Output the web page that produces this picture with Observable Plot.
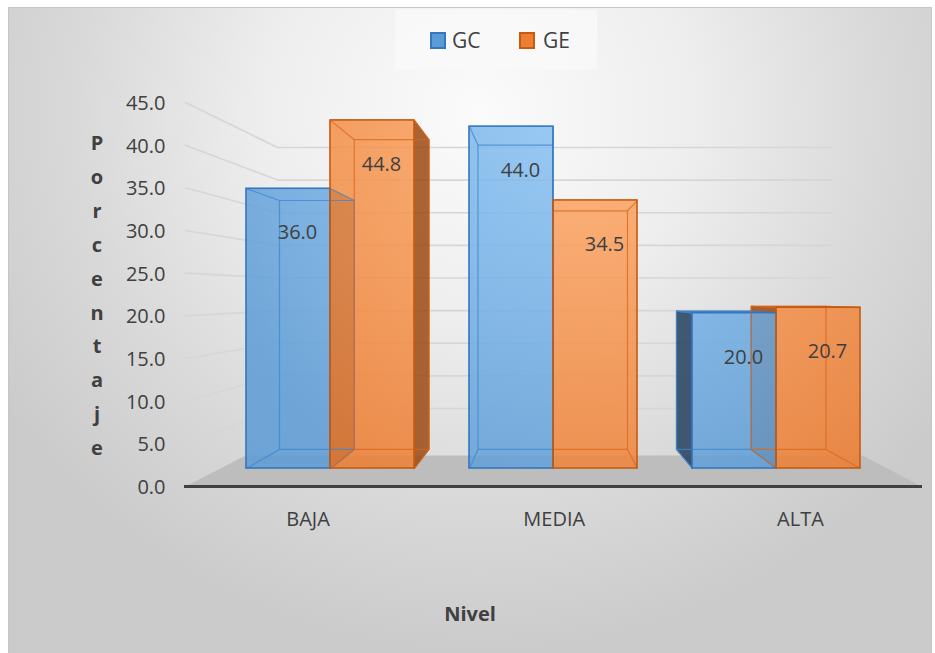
<!DOCTYPE html>
<html><head><meta charset="utf-8">
<script src="https://cdn.jsdelivr.net/npm/d3@7"></script>
<script src="https://cdn.jsdelivr.net/npm/@observablehq/plot@0.6"></script>
<style>
html,body{margin:0;padding:0;background:#fff;}
#wrap{position:relative;width:935px;height:653px;overflow:hidden;font-family:"Open Sans",sans-serif;color:#404040;}
#frame{position:absolute;left:8px;top:7px;width:924px;height:650px;border:1px solid #c6c6c6;box-sizing:border-box;
 background:radial-gradient(ellipse 560px 540px at 470px 105px,#fbfbfb 0%,#eeeeee 38%,#d9d9d9 72%,#cbcbcb 100%);}
.layer{position:absolute;left:0;top:0;}
#legend{position:absolute;left:395px;top:10px;width:202px;height:59px;background:rgba(250,250,250,0.75);}
.sw{position:absolute;width:12px;height:13px;border:2px solid;}
.lt{position:absolute;font-size:21px;line-height:32px;color:#404040;}
#xtitle{position:absolute;left:370px;top:599px;width:200px;text-align:center;font-weight:bold;font-size:20px;line-height:30px;color:#404040;}
#ytitle{position:absolute;left:80px;top:126px;width:34px;text-align:center;font-weight:bold;font-size:20px;line-height:33.9px;color:#404040;}
</style></head>
<body><div id="wrap"><div id="frame"></div><div id="axes" class="layer"></div><div id="bars" class="layer"></div>
<div id="legend"></div><div id="xtitle"></div><div id="ytitle"></div></div>
<script>
// ---- data ----
const categories = ["BAJA", "MEDIA", "ALTA"];
const groups = ["GC", "GE"];
const gcValues = [36.0, 44.0, 20.0];
const geValues = [44.8, 34.5, 20.7];
const yTicks = [0, 5, 10, 15, 20, 25, 30, 35, 40, 45];
const xTitle = "Nivel";
const yTitle = "Porcentaje";

const rows = [];
categories.forEach((c, i) => {
  rows.push({cat: c, i, group: "GC", value: gcValues[i]});
  rows.push({cat: c, i, group: "GE", value: geValues[i]});
});

// ---- styles ----
const fillColor = {GC: "#5b9bd5", GE: "#ed7d31"};
const lightColor = {GC: "#8cc4f6", GE: "#ffac6c"};
const edgeColor = {GC: "#3576bd", GE: "#c55a11"};
const innerColor = {GC: "#3f86cf", GE: "#d9661a"};
const sideColor = {GC: "#24405e", GE: "#9a4a12"};
const topColor = {GC: "#2e6aa8", GE: "#b9560f"};
const textColor = "#404040";
const FONT = "Open Sans";

// ---- 3D layout geometry (pixel layout -> data units via scales) ----
const X_DOMAIN = [0, 2], X_RANGE = [330, 776];
const Y_DOMAIN = [0, 45], BAR_Y_RANGE = [468, 118.35], AXIS_Y_RANGE = [486, 102];
const xPx = d3.scaleLinear(X_DOMAIN, X_RANGE);
const yAxisPx = d3.scaleLinear(Y_DOMAIN, AXIS_Y_RANGE);
const yBarPx = d3.scaleLinear(Y_DOMAIN, BAR_Y_RANGE);
const wallPx = d3.scaleLinear(Y_DOMAIN, [440.6, 147]);
const HALF = xPx.invert(330 + 84) - xPx.invert(330);
const VX = xPx.invert(546), VY = yBarPx.invert(295), DEPTH = 0.89, FRONT = 1.104;
const proj = (p, s) => [VX + (p[0] - VX) * s, VY + (p[1] - VY) * s];

// faces of each 3D bar
const facePts = [], innerLinks = [];
rows.forEach((r, k) => {
  const x0 = r.group === "GC" ? r.i - HALF : r.i, x1 = x0 + HALF, v = r.value;
  r.x0 = x0; r.x1 = x1; r.mid = (x0 + x1) / 2;
  const F = [[x0, 0], [x1, 0], [x1, v], [x0, v]];
  const B = F.map(p => proj(p, DEPTH));
  const faces = {
    back: [B[0], B[1], B[2], B[3]],
    bottom: [F[0], F[1], B[1], B[0]],
    top: [F[3], F[2], B[2], B[3]],
    left: [F[0], F[3], B[3], B[0]],
    right: [F[1], F[2], B[2], B[1]]
  };
  const outer = {back: false, bottom: false, top: v < VY, left: x0 > VX, right: x1 < VX};
  for (const kind in faces) {
    const pts = faces[kind].concat([faces[kind][0]]);
    pts.forEach(p => facePts.push({id: k + "-" + kind, group: r.group, kind, outer: outer[kind], x: p[0], y: p[1]}));
  }
  F.forEach((p, j) => innerLinks.push({group: r.group, x1: p[0], y1: p[1], x2: B[j][0], y2: B[j][1]}));
});

// ---- axis / wall layer ----
const floorPts = [
  [xPx.invert(185), 0], [xPx.invert(921), 0],
  [xPx.invert(862), yAxisPx.invert(455)], [xPx.invert(245), yAxisPx.invert(455)], [xPx.invert(185), 0]
].map(([x, y]) => ({x, y}));
const gridPts = [];
yTicks.filter(t => t > 0).forEach(t => {
  const wy = yAxisPx.invert(wallPx(t));
  gridPts.push({t, x: xPx.invert(185), y: t});
  gridPts.push({t, x: xPx.invert(277), y: wy});
  gridPts.push({t, x: xPx.invert(831), y: wy});
});

const common = {
  width: 935, height: 653,
  x: {type: "linear", domain: X_DOMAIN, range: X_RANGE, axis: null},
  style: {background: "transparent", overflow: "visible"}
};

const axes = Plot.plot({
  ...common,
  y: {domain: Y_DOMAIN, range: AXIS_Y_RANGE, axis: null},
  marks: [
    Plot.line(floorPts, {x: "x", y: "y", fill: "#bdbdbd", stroke: "none"}),
    Plot.line(gridPts, {x: "x", y: "y", z: "t", stroke: "#d6d6d6", strokeWidth: 1.6}),
    Plot.ruleY([0], {x1: xPx.invert(184), x2: xPx.invert(922), stroke: "#404040", strokeWidth: 3.2}),
    Plot.text(yTicks, {x: () => xPx.invert(165), y: d => d, text: d => d.toFixed(1), textAnchor: "end", dy: 1,
      fontSize: 20, fontFamily: FONT, fill: textColor}),
    Plot.text(categories, {x: (d, i) => VX + (i - VX) * FRONT, y: () => 0, text: d => d, dy: 33,
      fontSize: 20, fontFamily: FONT, fill: textColor})
  ]
});
document.getElementById("axes").appendChild(axes);

// ---- bar layer ----
const barMarks = [];
for (const g of groups) {
  const gp = facePts.filter(d => d.group === g);
  barMarks.push(Plot.line(gp.filter(d => d.outer && (d.kind === "left" || d.kind === "right")),
    {x: "x", y: "y", z: "id", fill: sideColor[g], fillOpacity: 0.85, stroke: edgeColor[g], strokeWidth: 1}));
  barMarks.push(Plot.line(gp.filter(d => d.outer && d.kind === "top"),
    {x: "x", y: "y", z: "id", fill: topColor[g], fillOpacity: 0.85, stroke: edgeColor[g], strokeWidth: 1}));
}
for (const g of groups) {
  barMarks.push(Plot.rect(rows.filter(d => d.group === g),
    {x1: "x0", x2: "x1", y1: () => 0, y2: "value", fill: fillColor[g], fillOpacity: 0.85}));
}
for (const g of groups) {
  barMarks.push(Plot.line(facePts.filter(d => d.group === g && d.kind === "back"),
    {x: "x", y: "y", z: "id", stroke: innerColor[g], strokeOpacity: 0.75, strokeWidth: 1.2}));
  barMarks.push(Plot.link(innerLinks.filter(d => d.group === g),
    {x1: "x1", y1: "y1", x2: "x2", y2: "y2", stroke: innerColor[g], strokeOpacity: 0.75, strokeWidth: 1.2}));
}
for (const g of groups) {
  barMarks.push(Plot.rect(rows.filter(d => d.group === g),
    {x1: "x0", x2: "x1", y1: () => 0, y2: "value", fill: "none", stroke: edgeColor[g], strokeWidth: 1.6}));
}
barMarks.push(Plot.text(rows, {x: "mid", y: "value", text: d => d.value.toFixed(1), dx: 9, dy: 44,
  fontSize: 20, fontFamily: FONT, fill: textColor}));

const bars = Plot.plot({
  ...common,
  y: {domain: Y_DOMAIN, range: BAR_Y_RANGE, axis: null},
  marks: barMarks
});
// lighting gradient on the front faces
const ns = "http://www.w3.org/2000/svg";
const defs = document.createElementNS(ns, "defs");
groups.forEach(g => {
  const rg = document.createElementNS(ns, "radialGradient");
  rg.setAttribute("id", "grad-" + g);
  rg.setAttribute("gradientUnits", "userSpaceOnUse");
  rg.setAttribute("cx", "590"); rg.setAttribute("cy", "110"); rg.setAttribute("r", "420");
  [[0, lightColor[g]], [1, fillColor[g]]].forEach(([o, c]) => {
    const s = document.createElementNS(ns, "stop");
    s.setAttribute("offset", o); s.setAttribute("stop-color", c);
    rg.appendChild(s);
  });
  defs.appendChild(rg);
});
bars.insertBefore(defs, bars.firstChild);
groups.forEach(g => {
  bars.querySelectorAll('g[aria-label="rect"]').forEach(el => {
    if ((el.getAttribute("fill") || "").toLowerCase() === fillColor[g]) el.setAttribute("fill", "url(#grad-" + g + ")");
  });
});
document.getElementById("bars").appendChild(bars);

// ---- legend & titles ----
const legend = document.getElementById("legend");
const legendPos = {GC: [35, 57], GE: [124, 148]};
groups.forEach(g => {
  const sw = document.createElement("div");
  sw.className = "sw";
  sw.style.left = legendPos[g][0] + "px";
  sw.style.top = "22px";
  sw.style.background = fillColor[g];
  sw.style.borderColor = edgeColor[g];
  legend.appendChild(sw);
  const t = document.createElement("div");
  t.className = "lt";
  t.style.left = legendPos[g][1] + "px";
  t.style.top = "14px";
  t.textContent = g;
  legend.appendChild(t);
});
document.getElementById("xtitle").textContent = xTitle;
document.getElementById("ytitle").innerHTML = yTitle.split("").join("<br>");
</script>
</body></html>
